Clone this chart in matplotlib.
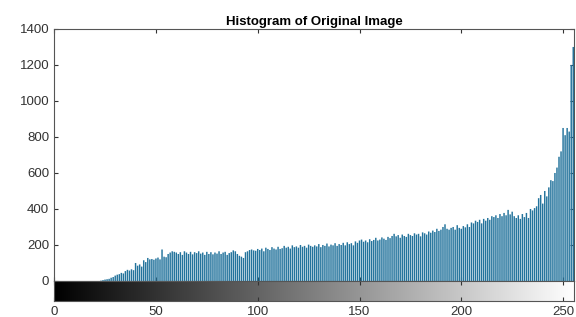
import matplotlib.pyplot as plt
import numpy as np

# histogram counts for gray levels 0..255
counts = [
    0, 0, 0, 0, 0, 0, 0, 0, 0, 0, 0, 0, 0, 0, 0, 0,
    0, 0, 0, 0, 0, 0, 0, 2, 5, 8, 10, 12, 18, 22, 30, 35,
    38, 45, 42, 55, 62, 58, 65, 60, 100, 85, 92, 80, 115, 105, 128, 120,
    122, 118, 125, 130, 120, 175, 135, 132, 150, 158, 165, 162, 158, 150, 160, 145,
    165, 158, 150, 162, 148, 160, 155, 165, 152, 158, 145, 162, 150, 160, 148, 158,
    152, 165, 150, 158, 162, 145, 155, 160, 170, 165, 150, 140, 135, 128, 160, 165,
    172, 175, 170, 168, 178, 172, 180, 165, 185, 178, 172, 188, 180, 175, 190, 178,
    182, 195, 185, 190, 180, 198, 188, 192, 185, 200, 190, 195, 185, 202, 195, 190,
    198, 192, 205, 188, 200, 195, 208, 192, 202, 198, 210, 195, 205, 200, 212, 198,
    215, 205, 210, 198, 220, 212, 225, 230, 218, 225, 215, 232, 222, 228, 240, 225,
    230, 242, 235, 228, 245, 238, 250, 262, 248, 255, 240, 258, 250, 245, 262, 255,
    250, 265, 258, 262, 248, 270, 265, 258, 275, 268, 280, 272, 290, 278, 285, 300,
    315, 290, 285, 295, 300, 285, 310, 295, 290, 305, 298, 315, 300, 325, 320, 335,
    328, 340, 320, 345, 335, 350, 340, 360, 355, 365, 350, 372, 360, 378, 365, 395,
    370, 385, 360, 350, 365, 345, 372, 355, 378, 350, 400, 392, 405, 415, 460, 478,
    430, 500, 470, 520, 560, 555, 600, 630, 690, 720, 850, 810, 850, 830, 1200, 1300,
]
levels = np.arange(256)
x_ticks = [0, 50, 100, 150, 200, 250]
y_ticks = [0, 200, 400, 600, 800, 1000, 1200, 1400]
title = "Histogram of Original Image"

plt.rcParams['font.family'] = ['Liberation Sans', 'DejaVu Sans']
plt.rcParams['font.size'] = 9.5
edge = '#333333'

fig = plt.figure(figsize=(5.76, 3.17), dpi=100)
ax = fig.add_axes([0.094, 0.1136, 0.903, 0.795])
cax = fig.add_axes([0.094, 0.0505, 0.903, 0.063])

# stems drawn as thin anti-aliased lines, like MATLAB's imhist
ax.vlines(levels, 0, counts, colors='#23739c', linewidth=1.05,
          antialiased=True, snap=False)
ax.set_xlim(0, 255.5)
ax.set_ylim(0, 1400)
ax.set_yticks(y_ticks)
ax.set_xticks(x_ticks)
ax.tick_params(direction='in', top=True, right=True, labelbottom=False,
               length=3, colors=edge, labelcolor=edge)
for s in ax.spines.values():
    s.set_color('#555555')
    s.set_linewidth(0.8)
ax.set_title(title, fontsize=9.5, fontweight='bold', pad=3)

# gray-level bar under the histogram
grad = np.arange(256).reshape(1, -1)
cax.imshow(grad, cmap='gray', aspect='auto', extent=[-0.5, 255.5, 0, 1])
cax.set_xlim(0, 255.5)
cax.set_yticks([])
cax.set_xticks(x_ticks)
cax.tick_params(direction='in', top=True, length=3, colors=edge, labelcolor=edge)
for s in cax.spines.values():
    s.set_color('#555555')
    s.set_linewidth(0.8)

fig.savefig('out.png', dpi=100)
